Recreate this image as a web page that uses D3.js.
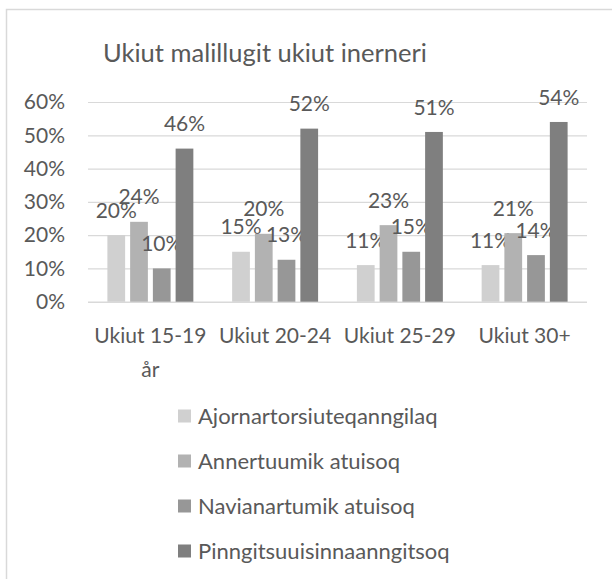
<!DOCTYPE html>
<html>
<head>
<meta charset="utf-8">
<script src="https://cdn.jsdelivr.net/npm/d3@7"></script>
<style>
  html, body { margin: 0; padding: 0; background: #fff; }
  svg { display: block; }
  text { font-family: Lato, "Open Sans", sans-serif; fill: #595959; }
</style>
</head>
<body>
<svg id="chart" width="612" height="579"></svg>
<script>
// Age groups along the x axis
const categories = ["Ukiut 15-19 år", "Ukiut 20-24", "Ukiut 25-29", "Ukiut 30+"];
// Series names (legend order)
const seriesNames = [
  "Ajornartorsiuteqanngilaq",
  "Annertuumik atuisoq",
  "Navianartumik atuisoq",
  "Pinngitsuuisinnaanngitsoq"
];
// Share per age group, one array per series
const ajornartorsiuteqanngilaq = [0.20, 0.15, 0.11, 0.11];
const annertuumik = [0.24, 0.204, 0.23, 0.206];
const navianartumik = [0.10, 0.126, 0.15, 0.14];
const pinngitsuuisinnaanngitsoq = [0.46, 0.52, 0.51, 0.54];
const seriesValues = [ajornartorsiuteqanngilaq, annertuumik, navianartumik, pinngitsuuisinnaanngitsoq];
// y axis ticks
const yTicks = [0, 0.1, 0.2, 0.3, 0.4, 0.5, 0.6];
const title = "Ukiut malillugit ukiut inerneri";

const colors = ["#d0d0d0", "#b2b2b2", "#979797", "#7f7f7f"];

const svg = d3.select("#chart");

// Chart frame
svg.append("rect")
  .attr("x", 6.5).attr("y", 9.5)
  .attr("width", 640).attr("height", 640)
  .attr("fill", "none").attr("stroke", "#d9d9d9").attr("stroke-width", 1.5);

// Title
svg.append("text")
  .attr("x", 265).attr("y", 62)
  .attr("text-anchor", "middle")
  .style("font-size", "25.5px")
  .text(title);

const plot = { left: 88, right: 587, top: 102, bottom: 301.7 };

const y = d3.scaleLinear().domain([0, 0.6]).range([plot.bottom, plot.top]);
const x0 = d3.scaleBand().domain(categories).range([plot.left, plot.right]).padding(0);
const inner = 19.4;
const x1 = d3.scaleBand().domain(seriesNames)
  .range([inner, x0.bandwidth() - inner])
  .paddingInner(0.22).paddingOuter(0);

// Gridlines and tick labels via a left axis
const yAxis = d3.axisLeft(y)
  .tickValues(yTicks)
  .tickFormat(d3.format(".0%"))
  .tickSize(-(plot.right - plot.left))
  .tickPadding(23);

const gy = svg.append("g")
  .attr("transform", `translate(${plot.left},0)`)
  .call(yAxis);
gy.select(".domain").remove();
gy.selectAll(".tick line")
  .attr("stroke", "#d9d9d9")
  .attr("stroke-width", d => d === 0 ? 1.5 : 1.2);
gy.selectAll(".tick text")
  .style("font-size", "21px")
  .attr("fill", "#595959")
  .attr("font-family", null);

// Bars
const groups = svg.append("g").selectAll("g")
  .data(categories)
  .join("g")
  .attr("transform", d => `translate(${x0(d)},0)`);

const cells = groups.selectAll("g.cell")
  .data((c, ci) => seriesNames.map((s, si) => ({ s, si, v: seriesValues[si][ci] })))
  .join("g").attr("class", "cell");

cells.append("rect")
  .attr("x", d => x1(d.s))
  .attr("width", x1.bandwidth())
  .attr("y", d => y(d.v))
  .attr("height", d => y(0) - y(d.v))
  .attr("fill", d => colors[d.si]);

// Value labels
cells.append("text")
  .attr("x", d => x1(d.s) + x1.bandwidth() / 2)
  .attr("y", d => y(d.v) - 25)
  .attr("dy", "0.36em")
  .attr("text-anchor", "middle")
  .style("font-size", "21px")
  .text(d => d3.format(".0%")(d.v));

// Category labels (first one wraps onto a second line)
const catLabels = svg.append("g").selectAll("text")
  .data(categories)
  .join("text")
  .attr("text-anchor", "middle")
  .attr("x", d => x0(d) + x0.bandwidth() / 2)
  .attr("y", 343)
  .style("font-size", "21px");

catLabels.each(function(d) {
  const t = d3.select(this);
  const words = d.split(" ");
  if (words.length > 2) {
    t.append("tspan").attr("x", t.attr("x")).text(words.slice(0, 2).join(" "));
    t.append("tspan").attr("x", t.attr("x")).attr("dy", 34).text(words.slice(2).join(" "));
  } else {
    t.text(d);
  }
});

// Legend
const legend = svg.append("g").selectAll("g")
  .data(seriesNames)
  .join("g")
  .attr("transform", (d, i) => `translate(178,${416 + i * 45})`);

legend.append("rect")
  .attr("x", 0).attr("y", -6.5)
  .attr("width", 13).attr("height", 13)
  .attr("fill", (d, i) => colors[i]);

legend.append("text")
  .attr("x", 20).attr("y", 0)
  .attr("dy", "0.36em")
  .style("font-size", "22px")
  .text(d => d);
</script>
</body>
</html>
